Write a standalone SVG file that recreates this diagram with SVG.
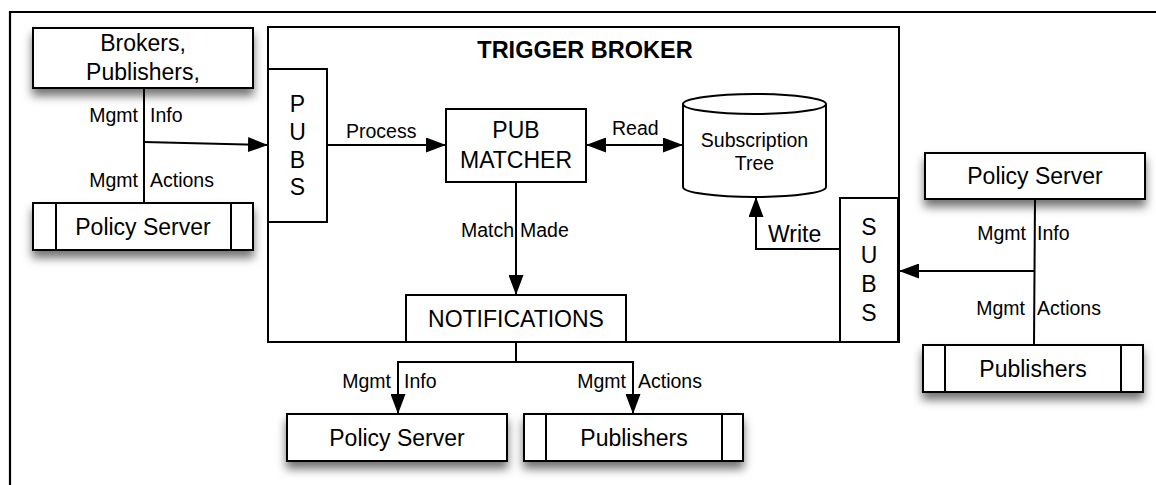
<svg xmlns="http://www.w3.org/2000/svg" width="1156" height="485" viewBox="0 0 1156 485">
<style>
.box{fill:#fff;stroke:#000;stroke-width:2}
.ln{fill:none;stroke:#000;stroke-width:2}
.t{font-family:"Liberation Sans",Arial,sans-serif;fill:#000}
.n{font-size:23px;text-anchor:middle}
.l{font-size:19.5px}
.r{text-anchor:end}
.c{text-anchor:middle}
</style>
<defs>
<filter id="sh" x="-20%" y="-30%" width="140%" height="190%">
<feDropShadow dx="0" dy="7" stdDeviation="5" flood-color="#000" flood-opacity="0.55"/>
</filter>
<marker id="ah" viewBox="0 0 20 15" refX="19" refY="7.5" markerWidth="20" markerHeight="15" markerUnits="userSpaceOnUse" orient="auto-start-reverse">
<path d="M0,0 L20,7.5 L0,15 z" fill="#000"/>
</marker>
</defs>
<rect width="1156" height="485" fill="#fff"/>
<path d="M10,485 V12 H1156" fill="none" stroke="#000" stroke-width="2.2"/>

<g id="trigger-broker">
<rect class="box" x="268" y="27" width="631" height="315"/>
<text class="t" x="585" y="58" font-size="23.5" font-weight="bold" text-anchor="middle">TRIGGER BROKER</text>
</g>

<g id="brokers">
<rect class="box" x="33" y="28" width="220" height="60" filter="url(#sh)"/>
<text class="t n" x="143" y="51">Brokers,</text>
<text class="t n" x="143" y="80">Publishers,</text>
</g>

<g id="policy-server-left">
<rect class="box" x="33" y="203" width="220" height="47" filter="url(#sh)"/>
<line class="ln" x1="56" y1="203" x2="56" y2="250"/>
<line class="ln" x1="231" y1="203" x2="231" y2="250"/>
<text class="t n" x="143" y="235">Policy Server</text>
</g>

<g id="pubs">
<rect class="box" x="268" y="69" width="59" height="153"/>
<text class="t n" x="297.5" y="112">P</text>
<text class="t n" x="297.5" y="140">U</text>
<text class="t n" x="297.5" y="168">B</text>
<text class="t n" x="297.5" y="195">S</text>
</g>

<g id="pub-matcher">
<rect class="box" x="446" y="109" width="140" height="73"/>
<text class="t n" x="516" y="138">PUB</text>
<text class="t n" x="516" y="168">MATCHER</text>
</g>

<g id="subscription-tree">
<path class="box" d="M683,104 V187 A71.5,10 0 0 0 826,187 V104 A71.5,10 0 0 0 683,104 Z"/>
<path class="ln" d="M683,104 A71.5,10 0 0 0 826,104"/>
<text class="t c" x="754.5" y="147" font-size="19.5">Subscription</text>
<text class="t c" x="754.5" y="170" font-size="19.5">Tree</text>
</g>

<g id="subs">
<rect class="box" x="840" y="198" width="58" height="144"/>
<text class="t n" x="869" y="235">S</text>
<text class="t n" x="869" y="263">U</text>
<text class="t n" x="869" y="292">B</text>
<text class="t n" x="869" y="321">S</text>
</g>

<g id="notifications">
<rect class="box" x="406" y="295" width="220" height="47"/>
<text class="t n" x="516" y="327">NOTIFICATIONS</text>
</g>

<g id="policy-server-right">
<rect class="box" x="925" y="153" width="220" height="46" filter="url(#sh)"/>
<text class="t n" x="1035" y="184">Policy Server</text>
</g>

<g id="publishers-right">
<rect class="box" x="923" y="345" width="220" height="47" filter="url(#sh)"/>
<line class="ln" x1="945" y1="345" x2="945" y2="392"/>
<line class="ln" x1="1121" y1="345" x2="1121" y2="392"/>
<text class="t n" x="1033" y="377">Publishers</text>
</g>

<g id="policy-server-bottom">
<rect class="box" x="287" y="414" width="220" height="47" filter="url(#sh)"/>
<text class="t n" x="397" y="446">Policy Server</text>
</g>

<g id="publishers-bottom">
<rect class="box" x="524" y="414" width="219" height="47" filter="url(#sh)"/>
<line class="ln" x1="546" y1="414" x2="546" y2="461"/>
<line class="ln" x1="722" y1="414" x2="722" y2="461"/>
<text class="t n" x="634" y="446">Publishers</text>
</g>

<g id="connectors">
<line class="ln" x1="144" y1="88" x2="144" y2="203"/>
<line class="ln" x1="144" y1="142" x2="267" y2="145" marker-end="url(#ah)"/>
<line class="ln" x1="327" y1="145" x2="445" y2="145" marker-end="url(#ah)"/>
<line class="ln" x1="587" y1="145" x2="682" y2="145" marker-start="url(#ah)" marker-end="url(#ah)"/>
<line class="ln" x1="516" y1="182" x2="516" y2="294" marker-end="url(#ah)"/>
<path class="ln" d="M840,249 H756 V198" marker-end="url(#ah)"/>
<line class="ln" x1="1035" y1="199" x2="1034" y2="345"/>
<line class="ln" x1="1034" y1="271" x2="900" y2="271" marker-end="url(#ah)"/>
<path class="ln" d="M516,342 V362"/>
<path class="ln" d="M516,362 H398 V413" marker-end="url(#ah)"/>
<path class="ln" d="M516,362 H633 V413" marker-end="url(#ah)"/>

<text class="t l r" x="138" y="122">Mgmt</text>
<text class="t l" x="150" y="122">Info</text>
<text class="t l r" x="138" y="187">Mgmt</text>
<text class="t l" x="150" y="187">Actions</text>
<text class="t l" x="346" y="138">Process</text>
<text class="t l" x="612" y="135">Read</text>
<text class="t l r" x="514" y="237">Match</text>
<text class="t l" x="520" y="237">Made</text>
<text class="t" x="768" y="242" font-size="23">Write</text>
<text class="t l r" x="1026" y="240">Mgmt</text>
<text class="t l" x="1037" y="240">Info</text>
<text class="t l r" x="1025" y="315">Mgmt</text>
<text class="t l" x="1037" y="315">Actions</text>
<text class="t l r" x="391" y="388">Mgmt</text>
<text class="t l" x="404" y="388">Info</text>
<text class="t l r" x="626" y="388">Mgmt</text>
<text class="t l" x="638" y="388">Actions</text>
</g>
</svg>
